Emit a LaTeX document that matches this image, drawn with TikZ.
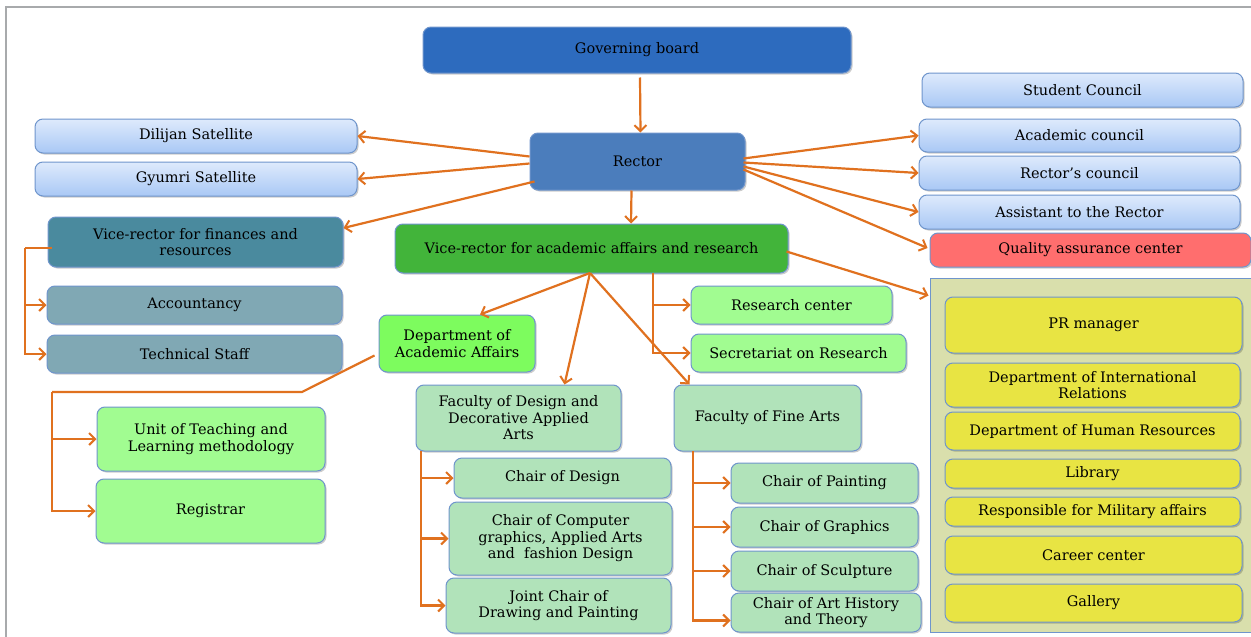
\documentclass[tikz,border=0pt]{standalone}
\usepackage{fontspec}
\setmainfont{DejaVu Serif}
\usetikzlibrary{arrows.meta,calc,shadows}
\definecolor{govblue}{HTML}{2D6BBE}
\definecolor{rectorblue}{HTML}{4B7DBC}
\definecolor{lbtop}{HTML}{DEEAFC}
\definecolor{lbbot}{HTML}{A9C8F5}
\definecolor{bordc}{HTML}{6F95CC}
\definecolor{tealdark}{HTML}{4A8A9E}
\definecolor{teallight}{HTML}{80A8B4}
\definecolor{vrgreen}{HTML}{42B43A}
\definecolor{deptgreen}{HTML}{7DFC5E}
\definecolor{lightgreen}{HTML}{A1FC91}
\definecolor{mint}{HTML}{B1E3BA}
\definecolor{yel}{HTML}{E8E443}
\definecolor{panelc}{HTML}{D9DFAC}
\definecolor{qred}{HTML}{FF6E6E}
\definecolor{orangec}{HTML}{E0711F}
\definecolor{framec}{HTML}{A8AAAC}
\newcommand\bx[7]{\node[#6, minimum width={(#4)-(#2)}, minimum height={(#5)-(#3)}] (#1) at ({((#2)+(#4))/2},{((#3)+(#5))/2}) {#7};}
\tikzset{
  box/.style={draw=bordc, line width=1pt, rounded corners=8pt, inner sep=1pt, align=center,
    font=\fontsize{14.5}{16.5}\selectfont, text=black,
    drop shadow={shadow xshift=1.5pt, shadow yshift=-1.5pt, fill=black, opacity=0.2}},
  gov/.style={box, fill=govblue},
  rect/.style={box, fill=rectorblue},
  lblue/.style={box, top color=lbtop, bottom color=lbbot},
  tdark/.style={box, fill=tealdark},
  tlight/.style={box, fill=teallight},
  vrg/.style={box, fill=vrgreen},
  dgreen/.style={box, fill=deptgreen},
  lgreen/.style={box, fill=lightgreen},
  mintb/.style={box, fill=mint},
  yelb/.style={box, fill=yel},
  redb/.style={box, fill=qred},
  panel/.style={draw=bordc, line width=1pt, fill=panelc},
  conn/.style={draw=orangec, line width=2.2pt, -{Straight Barb[length=6pt,width=12pt,line width=2pt]}},
  plain/.style={draw=orangec, line width=2.2pt},
}
\begin{document}
\begin{tikzpicture}[x=1pt,y=-1pt]
\useasboundingbox (0,0) rectangle (1251,637);
\fill[white] (0,0) rectangle (1251,637);
\draw[framec, line width=2.5pt] (6,637) -- (6,7) -- (1251,7);

% panel
\bx{panel}{930}{278}{1251}{632}{panel}{}

\bx{gov}{423}{27}{851}{73}{gov}{Governing board}
\bx{rector}{530}{133}{745}{190}{rect}{Rector}
\bx{dilijan}{35}{119}{357}{153}{lblue}{Dilijan Satellite}
\bx{gyumri}{35}{162}{357}{196}{lblue}{Gyumri Satellite}
\bx{student}{922}{73}{1243}{107}{lblue}{Student Council}
\bx{academic}{919}{119}{1240}{152}{lblue}{Academic council}
\bx{rcouncil}{919}{156}{1240}{190}{lblue}{Rector's council}
\bx{assistant}{919}{195}{1240}{229}{lblue}{Assistant to the Rector}
\bx{quality}{930}{233}{1251}{267}{redb}{Quality assurance center}
\bx{vrfin}{48}{217}{343}{267}{tdark}{Vice-rector for finances and\\resources}
\bx{acc}{47}{286}{342}{324}{tlight}{Accountancy}
\bx{tech}{47}{335}{342}{373}{tlight}{Technical Staff}
\bx{vracad}{395}{224}{788}{273}{vrg}{Vice-rector for academic affairs and research}
\bx{dept}{379}{315}{535}{372}{dgreen}{Department of\\Academic Affairs}
\bx{research}{691}{286}{892}{324}{lgreen}{Research center}
\bx{secret}{691}{334}{906}{372}{lgreen}{Secretariat on Research}
\bx{unit}{97}{407}{325}{471}{lgreen}{Unit of Teaching and\\Learning methodology}
\bx{registrar}{96}{479}{325}{543}{lgreen}{Registrar}
\bx{fdesign}{416}{385}{621}{451}{mintb}{Faculty of Design and\\Decorative Applied\\Arts}
\bx{cdesign}{454}{458}{671}{498}{mintb}{Chair of Design}
\bx{ccomp}{449}{502}{672}{575}{mintb}{Chair of Computer\\graphics, Applied Arts\\and\ \ fashion Design}
\bx{joint}{446}{578}{671}{633}{mintb}{Joint Chair of\\Drawing and Painting}
\bx{ffine}{674}{385}{861}{451}{mintb}{Faculty of Fine Arts}
\bx{cpaint}{731}{463}{918}{503}{mintb}{Chair of Painting}
\bx{cgraph}{731}{507}{918}{547}{mintb}{Chair of Graphics}
\bx{csculp}{731}{551}{918}{591}{mintb}{Chair of Sculpture}
\bx{carth}{731}{593}{921}{632}{mintb,font=\fontsize{14.5}{15.5}\selectfont}{Chair of Art History\\and Theory}

\bx{pr}{945}{297}{1242}{353}{yelb}{PR manager}
\bx{intl}{945}{363}{1240}{407}{yelb}{Department of International\\Relations}
\bx{hr}{945}{412}{1240}{450}{yelb}{Department of Human Resources}
\bx{library}{945}{459}{1240}{488}{yelb}{Library}
\bx{military}{945}{497}{1240}{526}{yelb}{Responsible for Military affairs}
\bx{career}{945}{536}{1242}{574}{yelb}{Career center}
\bx{gallery}{945}{584}{1242}{622}{yelb}{Gallery}

% connectors
\draw[conn] ($(gov.south)+(3,4)$) -- ($(rector.north)+(3,0)$);
\draw[conn] ($(rector.west)+(0,-5)$) -- (dilijan.east);
\draw[conn] ($(rector.west)+(0,2)$) -- (gyumri.east);
\draw[conn] ($(rector.west)+(5,20)$) -- ($(vrfin.east)+(0,-14)$);
\draw[conn] ($(rector.south)+(-6,0)$) -- ($(vracad.north)+(39.5,0)$);
\draw[conn] ($(rector.east)+(-2,-3)$) -- (academic.west);
\draw[conn] ($(rector.east)+(-2,1)$) -- (rcouncil.west);
\draw[conn] ($(rector.east)+(-2,5)$) -- (assistant.west);
\draw[conn] ($(rector.east)+(-2,8)$) -- ($(quality.west)+(-2,-2)$);
\draw[conn] ($(vracad.east)+(-2,3)$) -- ($(panel.north west)+(-1,18)$);

% finances bracket
\coordinate (fbr) at (25,248);
\draw[plain] ($(vrfin.west)+(4,6)$) -- (fbr);
\draw[conn] (fbr) |- (tech.west);
\draw[conn] (fbr |- acc.west) -- (acc.west);

% vice-rector academic branches
\coordinate (vp) at (590,273);
\draw[conn] (vp) -- ($(dept.north)+(23,0)$);
\draw[conn] (vp) -- ($(fdesign.north)+(46,0)$);
\draw[conn] (vp) -- ($(ffine.north west)+(16,0)$);
\coordinate (rv) at (653,273);
\draw[conn] (rv) |- (secret.west);
\draw[conn] (rv |- research.west) -- (research.west);

% dept academic affairs
\coordinate (d1) at (302,392);
\coordinate (d2) at (52,392);
\draw[plain] ($(dept.west)+(-4,12)$) -- (d1) -- (d2);
\draw[conn] (d2) |- (registrar.west);
\draw[conn] (d2 |- unit.west) -- (unit.west);

% faculty of design
\coordinate (fdb) at (421,451);
\draw[conn] (fdb) |- (joint.west);
\draw[conn] (fdb |- cdesign.west) -- (cdesign.west);
\draw[conn] (fdb |- ccomp.west) -- (ccomp.west);

% faculty of fine arts
\coordinate (ffb) at (693,451);
\draw[conn] (ffb) |- ($(carth.west)+(0,8)$);
\draw[conn] (ffb |- cpaint.west) -- (cpaint.west);
\draw[conn] (ffb |- cgraph.west) -- (cgraph.west);
\draw[conn] (ffb |- csculp.west) -- (csculp.west);
\end{tikzpicture}
\end{document}
